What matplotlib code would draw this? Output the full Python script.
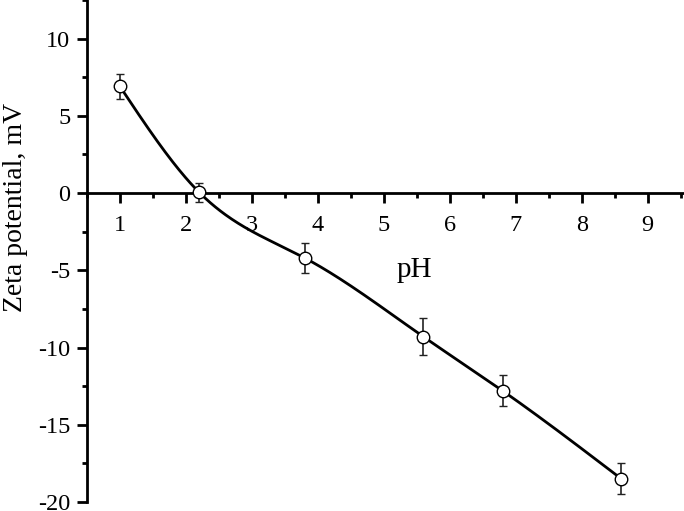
import numpy as np
import matplotlib
matplotlib.use('Agg')
import matplotlib.pyplot as plt
from matplotlib.ticker import MultipleLocator

# zeta potential vs pH
ph = np.array([1.0, 2.2, 3.8, 5.6, 6.8, 8.6])
zeta = np.array([6.9, 0.05, -4.2, -9.3, -12.8, -18.5])
zeta_err = np.array([0.8, 0.6, 1.0, 1.2, 1.0, 1.0])


def natural_spline(x, y, xs):
    # plain natural cubic spline, no scipy needed
    n = len(x)
    h = np.diff(x)
    A = np.zeros((n, n))
    b = np.zeros(n)
    A[0, 0] = A[-1, -1] = 1.0
    for i in range(1, n - 1):
        A[i, i - 1] = h[i - 1]
        A[i, i] = 2 * (h[i - 1] + h[i])
        A[i, i + 1] = h[i]
        b[i] = 3 * ((y[i + 1] - y[i]) / h[i] - (y[i] - y[i - 1]) / h[i - 1])
    c = np.linalg.solve(A, b)
    out = np.empty_like(xs)
    for k, xv in enumerate(xs):
        i = min(max(np.searchsorted(x, xv) - 1, 0), n - 2)
        d = (c[i + 1] - c[i]) / (3 * h[i])
        bb = (y[i + 1] - y[i]) / h[i] - h[i] * (2 * c[i] + c[i + 1]) / 3
        t = xv - x[i]
        out[k] = y[i] + bb * t + c[i] * t ** 2 + d * t ** 3
    return out


plt.rcParams['font.family'] = ['Liberation Serif', 'DejaVu Serif']
plt.rcParams['axes.unicode_minus'] = False

fig = plt.figure(figsize=(6.84, 5.11), dpi=100)
ax = fig.add_axes([0.1272, 0.0176, 0.8728, 0.9824])

xs = np.linspace(ph[0], ph[-1], 400)
ax.plot(xs, natural_spline(ph, zeta, xs), color='black', lw=2.0, zorder=2)
ax.errorbar(ph, zeta, yerr=zeta_err, fmt='o', color='black', ecolor='#222222',
            mfc='white', mec='black', ms=9, mew=1.0, elinewidth=1.2,
            capsize=3, capthick=1.2, zorder=3)

ax.set_xlim(0.5, 9.55)
ax.set_ylim(-20, 12.5)

ax.spines['top'].set_visible(False)
ax.spines['right'].set_visible(False)
ax.spines['bottom'].set_position(('data', 0))
ax.spines['bottom'].set_linewidth(2)
ax.spines['left'].set_linewidth(2)

ax.xaxis.set_major_locator(MultipleLocator(1))
ax.xaxis.set_minor_locator(MultipleLocator(0.5))
ax.yaxis.set_major_locator(MultipleLocator(5))
ax.yaxis.set_minor_locator(MultipleLocator(2.5))
ax.tick_params(which='major', direction='out', length=7, width=2, labelsize=17.5)
ax.tick_params(which='minor', direction='out', length=3.6, width=2)
ax.tick_params(axis='x', which='major', pad=9)
ax.tick_params(axis='y', which='major', pad=5)
ax.set_xticks(np.arange(1, 10))

ax.set_ylabel('Zeta potential, mV', fontsize=20)
ax.yaxis.set_label_coords(-0.0988, 0.5876)
ax.text(5.46, -4.95, 'pH', fontsize=21, ha='center', va='center')

fig.savefig('out.png', dpi=100)
